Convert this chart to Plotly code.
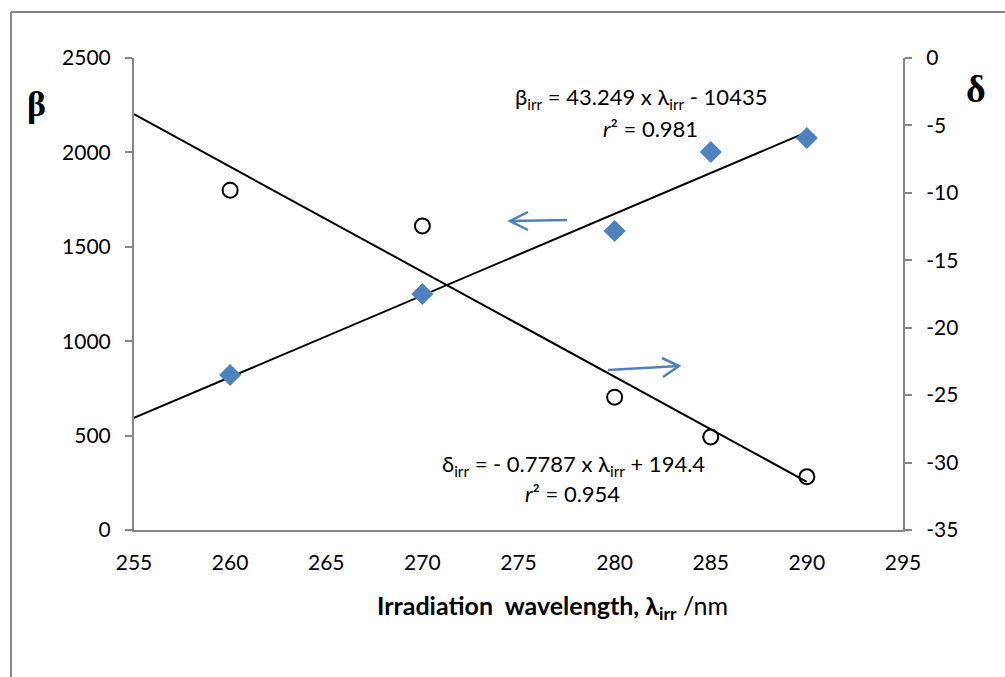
import plotly.graph_objects as go

# ---- data ----
wavelength = [260, 270, 280, 285, 290]
beta_vals = [821, 1250, 1584, 2002, 2076]
delta_vals = [-9.8, -12.45, -25.15, -28.1, -31.05]

beta_slope, beta_intercept = 43.249, -10435
delta_slope, delta_intercept = -0.7787, 194.4
fit_x = [255, 290]

x_ticks = [255, 260, 265, 270, 275, 280, 285, 290, 295]
beta_ticks = [0, 500, 1000, 1500, 2000, 2500]
delta_ticks = [0, -5, -10, -15, -20, -25, -30, -35]

# ---- layout geometry (pixels) ----
W, H = 1005, 677
L, R, T, B = 134, 903, 58, 530
pw, ph = R - L, B - T


def px(x):
    return (x - L) / pw


def py(y):
    return (B - y) / ph


FONT = "Lato, 'Open Sans', sans-serif"
AXIS_COLOR = "#868686"
BLUE = "#4F81BD"
TICK_SIZE = 21
ANN_SIZE = 22

fig = go.Figure()

# fit lines
fig.add_trace(go.Scatter(
    x=fit_x, y=[beta_slope * v + beta_intercept for v in fit_x],
    mode="lines", line=dict(color="black", width=2), showlegend=False,
    hoverinfo="skip"))
fig.add_trace(go.Scatter(
    x=fit_x, y=[delta_slope * v + delta_intercept for v in fit_x],
    mode="lines", line=dict(color="black", width=2), showlegend=False,
    yaxis="y2", hoverinfo="skip"))

# data points
fig.add_trace(go.Scatter(
    x=wavelength, y=beta_vals, mode="markers",
    marker=dict(symbol="diamond", size=17, color=BLUE, line=dict(width=0)),
    showlegend=False, name="β"))
fig.add_trace(go.Scatter(
    x=wavelength, y=delta_vals, mode="markers",
    marker=dict(symbol="circle", size=15, color="rgba(255,255,255,0)",
                line=dict(color="black", width=2)),
    showlegend=False, name="δ", yaxis="y2"))

shapes = []
# outer frame (cropped chart border)
shapes.append(dict(type="line", xref="paper", yref="paper",
                   x0=px(11), x1=px(11), y0=py(12), y1=py(H + 5),
                   line=dict(color=AXIS_COLOR, width=2)))
shapes.append(dict(type="line", xref="paper", yref="paper",
                   x0=px(11), x1=px(W + 5), y0=py(12), y1=py(12),
                   line=dict(color=AXIS_COLOR, width=2)))


def arrow_path(pts):
    return "M " + " L ".join(f"{px(a)},{py(b)}" for a, b in pts)


# left-pointing arrow (towards beta axis)
shapes.append(dict(type="path", xref="paper", yref="paper",
                   path=arrow_path([(567, 220), (510, 221)]),
                   line=dict(color=BLUE, width=2.5)))
shapes.append(dict(type="path", xref="paper", yref="paper",
                   path=arrow_path([(528, 212), (510, 221), (528, 230)]),
                   line=dict(color=BLUE, width=2.5)))
# right-pointing arrow (towards delta axis)
shapes.append(dict(type="path", xref="paper", yref="paper",
                   path=arrow_path([(608, 370), (679, 366)]),
                   line=dict(color=BLUE, width=2.5)))
shapes.append(dict(type="path", xref="paper", yref="paper",
                   path=arrow_path([(662, 358), (679, 366), (663, 377)]),
                   line=dict(color=BLUE, width=2.5)))

annotations = [
    dict(xref="paper", yref="paper", x=px(641), y=py(98),
         text="β<sub>irr</sub> = 43.249 x λ<sub>irr</sub> - 10435",
         showarrow=False, font=dict(family=FONT, size=ANN_SIZE, color="black"),
         xanchor="center", yanchor="middle"),
    dict(xref="paper", yref="paper", x=px(650), y=py(128),
         text="<i>r</i>² = 0.981",
         showarrow=False, font=dict(family=FONT, size=ANN_SIZE, color="black"),
         xanchor="center", yanchor="middle"),
    dict(xref="paper", yref="paper", x=px(573), y=py(465),
         text="δ<sub>irr</sub> = - 0.7787 x λ<sub>irr</sub> + 194.4",
         showarrow=False, font=dict(family=FONT, size=ANN_SIZE, color="black"),
         xanchor="center", yanchor="middle"),
    dict(xref="paper", yref="paper", x=px(572), y=py(493),
         text="<i>r</i>² = 0.954",
         showarrow=False, font=dict(family=FONT, size=ANN_SIZE, color="black"),
         xanchor="center", yanchor="middle"),
    dict(xref="paper", yref="paper", x=px(36), y=py(104),
         text="<b>β</b>", showarrow=False,
         font=dict(family="Liberation Serif, serif", size=36, color="black"),
         xanchor="center", yanchor="middle"),
    dict(xref="paper", yref="paper", x=px(976), y=py(89),
         text="<b>δ</b>", showarrow=False,
         font=dict(family="Liberation Serif, serif", size=38, color="black"),
         xanchor="center", yanchor="middle"),
    dict(xref="paper", yref="paper", x=px(552), y=py(607),
         text="<b>Irradiation  wavelength, λ<sub>irr</sub></b> /nm",
         showarrow=False, font=dict(family=FONT, size=25, color="black"),
         xanchor="center", yanchor="middle"),
]

fig.update_layout(
    width=W, height=H,
    margin=dict(l=L, r=W - R, t=T, b=H - B),
    paper_bgcolor="white", plot_bgcolor="white",
    font=dict(family=FONT, size=TICK_SIZE, color="black"),
    showlegend=False,
    shapes=shapes,
    annotations=annotations,
    xaxis=dict(range=[255, 295], tickvals=x_ticks,
               ticktext=[str(v) for v in x_ticks],
               showgrid=False, zeroline=False, showline=True,
               linecolor=AXIS_COLOR, linewidth=2, ticks="",
               ticklabelstandoff=13, tickfont=dict(size=TICK_SIZE),
               mirror=False),
    yaxis=dict(range=[0, 2500], tickvals=beta_ticks,
               ticktext=[str(v) for v in beta_ticks],
               showgrid=False, zeroline=False, showline=True,
               linecolor=AXIS_COLOR, linewidth=2, ticks="outside",
               ticklen=7, tickwidth=2, tickcolor=AXIS_COLOR,
               ticklabelstandoff=10, tickfont=dict(size=TICK_SIZE)),
    yaxis2=dict(range=[-35, 0], tickvals=delta_ticks,
                ticktext=[str(v) for v in delta_ticks],
                overlaying="y", side="right", anchor="x",
                showgrid=False, zeroline=False, showline=True,
                linecolor=AXIS_COLOR, linewidth=2, ticks="outside",
                ticklen=7, tickwidth=2, tickcolor=AXIS_COLOR,
                ticklabelstandoff=10, tickfont=dict(size=TICK_SIZE)),
)

fig.write_html("out.html")
